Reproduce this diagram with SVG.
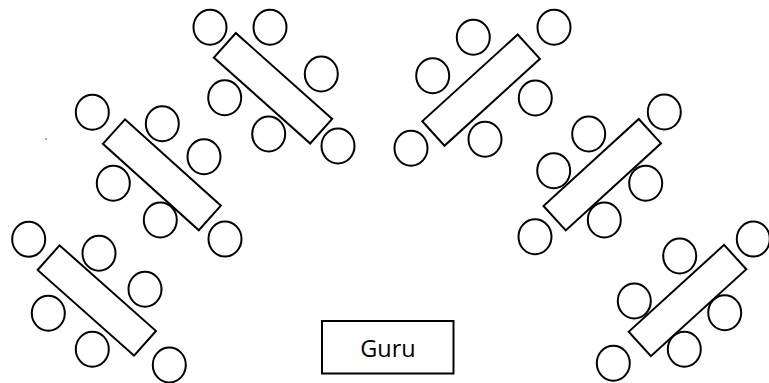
<svg xmlns="http://www.w3.org/2000/svg" width="769" height="383" viewBox="0 0 769 383">
<style>
.chair{fill:none;stroke:#000;stroke-width:2}
.table{fill:none;stroke:#000;stroke-width:2}
.guru{fill:none;stroke:#000;stroke-width:2}
.lbl{font-family:"Open Sans","Liberation Sans",sans-serif;font-size:23.5px;fill:#000;text-anchor:middle}
</style>
<rect width="769" height="383" fill="#fff"/>
<g id="connectors"/>
<circle cx="46" cy="139" r="0.8" fill="#333"/>
<g id="group1">
<rect class="table" x="-64.5" y="-16.5" width="129" height="33" transform="translate(96.8 300.5) rotate(41.6)"/>
<ellipse class="chair" cx="28.7" cy="239.3" rx="16.5" ry="17.5"/>
<ellipse class="chair" cx="99" cy="253.3" rx="16.5" ry="17.5"/>
<ellipse class="chair" cx="145" cy="289.3" rx="16.5" ry="17.5"/>
<ellipse class="chair" cx="48.3" cy="313.3" rx="16.5" ry="17.5"/>
<ellipse class="chair" cx="92.3" cy="349.3" rx="16.5" ry="17.5"/>
<ellipse class="chair" cx="169.3" cy="365" rx="16.5" ry="17.5"/>
</g>
<g id="group2">
<rect class="table" x="-64.5" y="-16.5" width="129" height="33" transform="translate(161.9 174.8) rotate(42)"/>
<ellipse class="chair" cx="92.3" cy="112.3" rx="16.5" ry="17.5"/>
<ellipse class="chair" cx="162.3" cy="123.7" rx="16.5" ry="17.5"/>
<ellipse class="chair" cx="204" cy="156.7" rx="16.5" ry="17.5"/>
<ellipse class="chair" cx="113.3" cy="183.3" rx="16.5" ry="17.5"/>
<ellipse class="chair" cx="160.3" cy="220" rx="16.5" ry="17.5"/>
<ellipse class="chair" cx="225" cy="239" rx="16.5" ry="17.5"/>
</g>
<g id="group3">
<rect class="table" x="-64.5" y="-16.5" width="129" height="33" transform="translate(273 88.25) rotate(41.7)"/>
<ellipse class="chair" cx="210" cy="27.3" rx="16.5" ry="17.5"/>
<ellipse class="chair" cx="270" cy="27.3" rx="16.5" ry="17.5"/>
<ellipse class="chair" cx="321.3" cy="74" rx="16.5" ry="17.5"/>
<ellipse class="chair" cx="224.7" cy="97.7" rx="16.5" ry="17.5"/>
<ellipse class="chair" cx="268.7" cy="134" rx="16.5" ry="17.5"/>
<ellipse class="chair" cx="338" cy="146" rx="16.5" ry="17.5"/>
</g>
<g id="group4">
<rect class="table" x="-64.5" y="-16.5" width="129" height="33" transform="translate(481.1 90.1) rotate(-42.3)"/>
<ellipse class="chair" cx="473.3" cy="37.3" rx="16.5" ry="17.5"/>
<ellipse class="chair" cx="554" cy="27.3" rx="16.5" ry="17.5"/>
<ellipse class="chair" cx="432.7" cy="75.7" rx="16.5" ry="17.5"/>
<ellipse class="chair" cx="535.3" cy="98" rx="16.5" ry="17.5"/>
<ellipse class="chair" cx="485" cy="139.3" rx="16.5" ry="17.5"/>
<ellipse class="chair" cx="411" cy="148.3" rx="16.5" ry="17.5"/>
</g>
<g id="group5">
<rect class="table" x="-64.5" y="-16.5" width="129" height="33" transform="translate(602.25 174.65) rotate(-42.4)"/>
<ellipse class="chair" cx="664.3" cy="112" rx="16.5" ry="17.5"/>
<ellipse class="chair" cx="588.7" cy="134" rx="16.5" ry="17.5"/>
<ellipse class="chair" cx="553.7" cy="170.7" rx="16.5" ry="17.5"/>
<ellipse class="chair" cx="645.7" cy="183.3" rx="16.5" ry="17.5"/>
<ellipse class="chair" cx="604.3" cy="220" rx="16.5" ry="17.5"/>
<ellipse class="chair" cx="535" cy="236.7" rx="16.5" ry="17.5"/>
</g>
<g id="group6">
<rect class="table" x="-64.5" y="-16.5" width="129" height="33" transform="translate(687.5 300.5) rotate(-42.3)"/>
<ellipse class="chair" cx="753.3" cy="239" rx="16.5" ry="17.5"/>
<ellipse class="chair" cx="679.7" cy="256" rx="16.5" ry="17.5"/>
<ellipse class="chair" cx="634.3" cy="301" rx="16.5" ry="17.5"/>
<ellipse class="chair" cx="724.7" cy="312.7" rx="16.5" ry="17.5"/>
<ellipse class="chair" cx="684.3" cy="349.3" rx="16.5" ry="17.5"/>
<ellipse class="chair" cx="613.3" cy="363.3" rx="16.5" ry="17.5"/>
</g>
<g id="guru">
<rect class="guru" x="322" y="321" width="131.5" height="52.5"/>
<text class="lbl" x="388" y="357">Guru</text>
</g>
</svg>
